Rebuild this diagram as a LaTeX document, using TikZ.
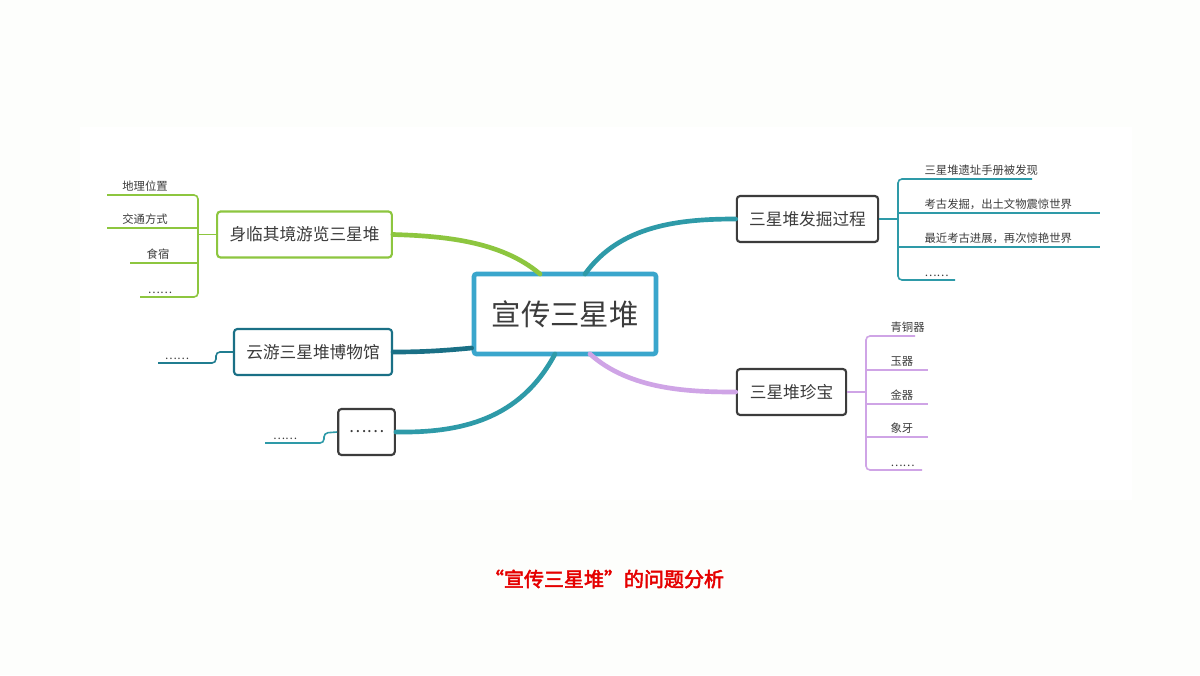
\documentclass[tikz,border=0pt]{standalone}
\usepackage{fontspec}
\setmainfont{Noto Sans CJK SC}[AutoFakeBold=2.5]
\usetikzlibrary{positioning}
\definecolor{cgreen}{HTML}{8DC63F}
\definecolor{cteal}{HTML}{2E9AA8}
\definecolor{cdark}{HTML}{1A7086}
\definecolor{cblue}{HTML}{3AA6CC}
\definecolor{cpurple}{HTML}{CFA4E6}
\definecolor{cgray}{HTML}{3C3C3C}
\tikzstyle{root} = [rectangle, minimum width = 136.5pt, minimum height = 60pt, draw = cblue, line width = 3.5pt, rounded corners = 2pt, fill = white, text = cgray, font = \fontsize{22}{26}\selectfont]
\tikzstyle{topic} = [rectangle, minimum height = 34.5pt, inner xsep = 8pt, line width = 1.6pt, rounded corners = 2.5pt, fill = white, text = cgray, font = \fontsize{12.5}{15}\selectfont]
\tikzstyle{leaf} = [inner sep = 1pt, text = cgray, font = \fontsize{8.5}{10}\selectfont]
\tikzstyle{branch} = [line width = 3.5pt, line cap = round]
\tikzstyle{twig} = [line width = 1.2pt, rounded corners = 3pt]

\begin{document}
\begin{tikzpicture}[x = 0.75pt, y = -0.75pt]
\fill[white!96!cgreen!40] (0,0) rectangle (1200,675);
\fill[white] (80,127) rectangle (1132,500);

%NODES
\node (root) [root] at (565,314) {宣传三星堆};
\node (tour) [topic, draw = cgreen, minimum width = 131pt] at (304.5,234.5) {身临其境游览三星堆};
\node (cloud) [topic, draw = cdark, minimum width = 118.5pt] at (313,352) {云游三星堆博物馆};
\node (more) [topic, draw = cgray, minimum width = 38pt] at (366.5,432) {……};
\node (dig) [topic, draw = cgray, minimum width = 106pt] at (807.5,219) {三星堆发掘过程};
\node (gem) [topic, draw = cgray, minimum width = 82pt] at (791.5,392) {三星堆珍宝};

%ARROWS
\draw [branch, cgreen] (540,274) .. controls (500,240) and (440,236) .. (tour.east);
\draw [branch, cdark] (root.west |- 0,348) .. controls (440,351) and (420,352) .. (cloud.east);
\draw [branch, cteal] (555,354) .. controls (520,420) and (460,433) .. (more.east);
\draw [branch, cteal] (585,274) .. controls (620,225) and (680,219) .. (dig.west);
\draw [branch, cpurple] (590,354) .. controls (630,390) and (690,392) .. (gem.west);

%LEAVES LEFT
\draw [twig, cgreen] (tour.west) -- (198,234.5);
\draw [twig, cgreen] (107,195) -- (198,195) -- (198,297) -- (140,297);
\draw [twig, cgreen] (107,228) -- (198,228);
\draw [twig, cgreen] (130,263) -- (198,263);
\node [leaf, anchor = south] at (145,193) {地理位置};
\node [leaf, anchor = south] at (145,226) {交通方式};
\node [leaf, anchor = south] at (158,261) {食宿};
\node [leaf, anchor = south] at (160,295) {……};

\draw [twig, cdark!70!cteal] (cloud.west) -- (216,352) -- (216,363) -- (158,363);
\node [leaf, anchor = south] at (177,361) {……};
\draw [twig, cteal] (more.west) -- (324,433) -- (324,443) -- (265,443);
\node [leaf, anchor = south] at (285,441) {……};

%LEAVES RIGHT
\draw [twig, cteal] (dig.east) -- (898,219);
\draw [twig, cteal] (1032,179) -- (898,179) -- (898,280) -- (955,280);
\draw [twig, cteal] (898,213) -- (1100,213);
\draw [twig, cteal] (898,247) -- (1100,247);
\node [leaf, anchor = south west] at (923,177) {三星堆遗址手册被发现};
\node [leaf, anchor = south west] at (923,211) {考古发掘，出土文物震惊世界};
\node [leaf, anchor = south west] at (923,245) {最近考古进展，再次惊艳世界};
\node [leaf, anchor = south west] at (923,278) {……};

\draw [twig, cpurple] (gem.east) -- (866,392);
\draw [twig, cpurple] (915,336) -- (866,336) -- (866,470) -- (922,470);
\draw [twig, cpurple] (866,370) -- (928,370);
\draw [twig, cpurple] (866,404) -- (928,404);
\draw [twig, cpurple] (866,437) -- (928,437);
\node [leaf, anchor = south west] at (889,334) {青铜器};
\node [leaf, anchor = south west] at (889,368) {玉器};
\node [leaf, anchor = south west] at (889,402) {金器};
\node [leaf, anchor = south west] at (889,435) {象牙};
\node [leaf, anchor = south west] at (889,468) {……};

%CAPTION
\node (caption) [text = red!90!black, font = \fontsize{15}{18}\selectfont\bfseries] at (604,579) {“宣传三星堆”的问题分析};
\end{tikzpicture}
\end{document}
